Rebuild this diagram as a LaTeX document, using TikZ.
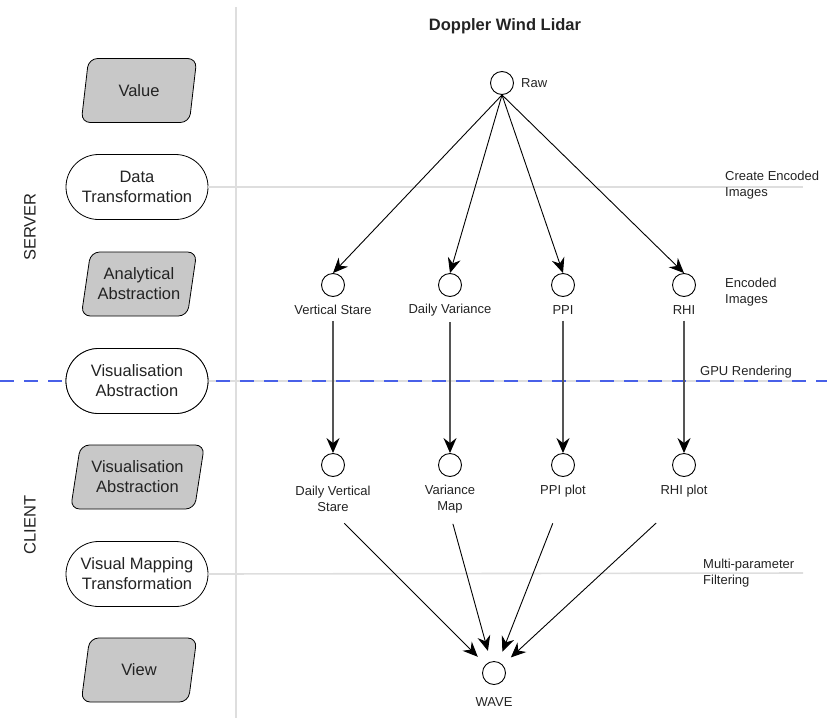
\documentclass[tikz,border=0pt]{standalone}
\usepackage{fontspec}
\setmainfont{Liberation Sans}
\usetikzlibrary{shapes.geometric,shapes.misc,arrows.meta}
\definecolor{shapegray}{RGB}{200,200,200}
\definecolor{guide}{RGB}{222,222,222}
\definecolor{splitblue}{RGB}{72,96,232}
\definecolor{txt}{RGB}{35,35,35}
\definecolor{stem}{RGB}{85,85,85}
\begin{document}
\begin{tikzpicture}[x=1pt,y=-1pt,
  datashape/.style={trapezium, trapezium left angle=76, trapezium right angle=104,
    trapezium stretches=true, minimum height=64pt, minimum width=116pt,
    draw=black, line width=0.8pt, fill=shapegray, rounded corners=9pt, align=center,
    font=\fontsize{16.5}{20}\selectfont, text=txt, inner sep=0pt},
  procshape/.style={rounded rectangle, draw=black, line width=0.8pt, fill=white,
    minimum width=142pt, minimum height=65pt, align=center,
    font=\fontsize{16.5}{20}\selectfont, text=txt, inner sep=0pt},
  tier/.style={rotate=90, font=\fontsize{16.5}{20}\selectfont, text=txt, inner sep=0pt},
  dot/.style={circle, draw=black, fill=white, minimum size=23pt, inner sep=0pt, line width=0.9pt},
  lbl/.style={font=\fontsize{13}{16}\selectfont, text=txt, align=center, inner sep=0pt},
  note/.style={font=\fontsize{13}{16}\selectfont, text=txt, align=left, anchor=west, inner sep=0pt},
  guideline/.style={draw=guide, line width=1.6pt},
  flow/.style={draw=black, line width=0.9pt, -{Stealth[length=15pt,width=13pt,inset=5pt]}},
  stemflow/.style={draw=stem, line width=1.3pt, -{Stealth[length=15pt,width=13pt,inset=5pt,color=black]}},
  splitline/.style={draw=splitblue, line width=1.3pt, dash pattern=on 14pt off 10pt}
]
\useasboundingbox (0,0) rectangle (827,718);

% vertical separator between the stage column and the lidar diagram
\coordinate (septop) at (236,7);
\coordinate (sepbot) at (236,718);
\draw[guideline] (septop) -- (sepbot);

% right-hand ends of the stage guide lines
\coordinate (dtend) at (803,187);
\coordinate (vaend) at (803,381);
\coordinate (vmend) at (803,573);
\coordinate (splitleft) at (0,381);
\coordinate (splitright) at (827,381);

% stage column
\node[datashape] (value) at (139,90.5) {Value};
\node[procshape] (datatf) at (137,187) {Data\\Transformation};
\node[datashape] (analytic) at (139,284) {Analytical\\Abstraction};
\node[procshape] (visabs) at (137,381) {Visualisation\\Abstraction};
\node[datashape, minimum width=134pt] (visabsdata) at (137.5,477) {Visualisation\\Abstraction};
\node[procshape] (vismap) at (137,574) {Visual Mapping\\Transformation};
\node[datashape] (view) at (139,670) {View};

\node[tier] (server) at (30,227) {SERVER};
\node[tier] (client) at (30,525) {CLIENT};

% guide lines from the transformation stages
\draw[guideline] (datatf.east) -- (dtend);
\draw[guideline] (visabs.east) -- (vaend);
\draw[guideline] (vismap.east) -- (vmend);

% server / client split, with the stage redrawn on top of it
\draw[splitline] (splitleft) -- (splitright);
\node[procshape] at (visabs) {Visualisation\\Abstraction};

% notes on the right
\node[note] (n1) at (725,185.5) {Create Encoded\\Images};
\node[note] (n2) at (725,292.5) {Encoded\\Images};
\node[note] (n3) at (700,372) {GPU Rendering};
\node[note] (n4) at (703,573) {Multi-parameter\\Filtering};

% lidar products
\node[font=\fontsize{16.5}{20}\selectfont\bfseries, text=txt, inner sep=0pt] (title) at (505,26) {Doppler Wind Lidar};

\node[dot] (raw) at (502,83) {};
\node[lbl, anchor=west] (rawl) at (521,83) {Raw};

\node[dot] (a1) at (333,285) {};
\node[dot] (a2) at (450,285) {};
\node[dot] (a3) at (563,285) {};
\node[dot] (a4) at (684,285) {};
\node[lbl] (la1) at (333,310) {Vertical Stare};
\node[lbl] (la2) at (450,310) {Daily Variance};
\node[lbl] (la3) at (563,310) {PPI};
\node[lbl] (la4) at (684,310) {RHI};

\node[dot] (b1) at (333,465) {};
\node[dot] (b2) at (450,465) {};
\node[dot] (b3) at (563,465) {};
\node[dot] (b4) at (684,465) {};
\node[lbl] (lb1) at (333,499) {Daily Vertical\\Stare};
\node[lbl] (lb2) at (450,499) {Variance\\Map};
\node[lbl] (lb3) at (563,491) {PPI plot};
\node[lbl] (lb4) at (684,491) {RHI plot};

\node[dot] (wave) at (494,673) {};
\node[lbl] (wavel) at (494,702) {WAVE};

% raw data to encoded images
\draw[flow] (raw.south) -- (a1.north);
\draw[flow] (raw.south) -- (a2.north);
\draw[flow] (raw.south) -- (a3.north);
\draw[flow] (raw.south) -- (a4.north);

% encoded images to client plots
\draw[stemflow, shorten <=6pt] (la1.south) -- (b1.north);
\draw[stemflow, shorten <=6pt] (la2.south) -- (b2.north);
\draw[stemflow, shorten <=6pt] (la3.south) -- (b3.north);
\draw[stemflow, shorten <=6pt] (la4.south) -- (b4.north);

% client plots into WAVE
\draw[flow, shorten <=16pt, shorten >=11pt] (lb1.south) -- (wave);
\draw[flow, shorten <=11pt, shorten >=11pt] (lb2.south) -- (wave);
\draw[flow, shorten <=28pt, shorten >=11pt] (lb3.south) -- (wave);
\draw[flow, shorten <=38pt, shorten >=11pt] (lb4.south) -- (wave);
\end{tikzpicture}
\end{document}
